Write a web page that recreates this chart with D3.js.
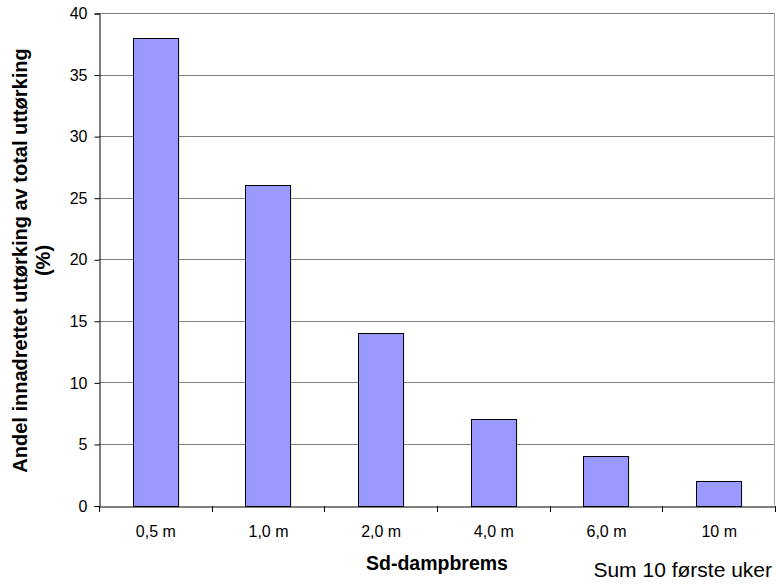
<!DOCTYPE html>
<html><head><meta charset="utf-8">
<script src="https://cdn.jsdelivr.net/npm/d3@7"></script>
<style>body{margin:0;background:#fff}svg{display:block;font-family:"Liberation Sans",Arial,sans-serif}</style>
</head><body><svg id="c" width="776" height="584"></svg>
<script>
const categories = ["0,5 m","1,0 m","2,0 m","4,0 m","6,0 m","10 m"];
const values = [38, 26, 14, 7, 4, 2];
const yTicks = [0,5,10,15,20,25,30,35,40];

const svg = d3.select("#c");
const L = 99, R = 775, T = 13, B = 505.5;
const x = d3.scaleBand().domain(categories).range([L, R]).paddingInner(0.6).paddingOuter(0.3);
const xb = d3.scaleBand().domain(categories).range([L, R]);
const y = d3.scaleLinear().domain([0, 40]).range([B, T]);
const FONT = "Liberation Sans, Arial, sans-serif";

// gridlines
svg.append("g").selectAll("line").data(yTicks.filter(d => d > 0)).join("line")
  .attr("x1", L).attr("x2", R).attr("y1", d => Math.round(y(d)) + 0.5).attr("y2", d => Math.round(y(d)) + 0.5)
  .attr("stroke", "#808080").attr("stroke-width", 1);
// right border
svg.append("line").attr("x1", R - 0.5).attr("x2", R - 0.5).attr("y1", T).attr("y2", B).attr("stroke", "#a0a0a0");

// bars
svg.append("g").selectAll("rect").data(values).join("rect")
  .attr("x", (d, i) => Math.round(x(categories[i])) + 0.5)
  .attr("y", d => Math.round(y(d)) + 0.5)
  .attr("width", x.bandwidth())
  .attr("height", d => Math.round(B) - Math.round(y(d)))
  .attr("fill", "#9999ff").attr("stroke", "#000").attr("stroke-width", 1);

// y axis
const ya = svg.append("g").attr("transform", `translate(${L + 0.5},0.5)`)
  .call(d3.axisLeft(y).tickValues(yTicks).tickSize(5).tickPadding(7).tickFormat(d3.format("d")));
ya.select(".domain").attr("stroke", "#000");
ya.selectAll(".tick text").attr("font-size", 16).attr("fill", "#000").attr("font-family", FONT);

// x axis
const xa = svg.append("g").attr("transform", `translate(0.5,${Math.round(B) + 0.5})`)
  .call(d3.axisBottom(xb).tickSize(0).tickPadding(19));
xa.select(".domain").attr("stroke", "#000");
xa.selectAll(".tick text").attr("font-size", 16).attr("fill", "#000").attr("font-family", FONT);
// boundary ticks
const bounds = categories.map(c => xb(c)).concat([R]);
svg.append("g").selectAll("line").data(bounds).join("line")
  .attr("x1", d => Math.round(d) + 0.5).attr("x2", d => Math.round(d) + 0.5)
  .attr("y1", Math.round(B)).attr("y2", Math.round(B) + 6).attr("stroke", "#000");

// titles
svg.append("text").attr("x", 437).attr("y", 570).attr("text-anchor", "middle")
  .attr("font-size", 19.5).attr("font-weight", "bold").text("Sd-dampbrems");
svg.append("text").attr("x", 772).attr("y", 577).attr("text-anchor", "end")
  .attr("font-size", 21).text("Sum 10 første uker");
const yt = svg.append("text").attr("transform", "translate(0,260.5) rotate(-90)")
  .attr("text-anchor", "middle").attr("font-size", 20).attr("font-weight", "bold");
yt.append("tspan").attr("x", 0).attr("y", 27).text("Andel innadrettet uttørking av total uttørking");
yt.append("tspan").attr("x", 0).attr("y", 50).text("(%)");
</script></body></html>
